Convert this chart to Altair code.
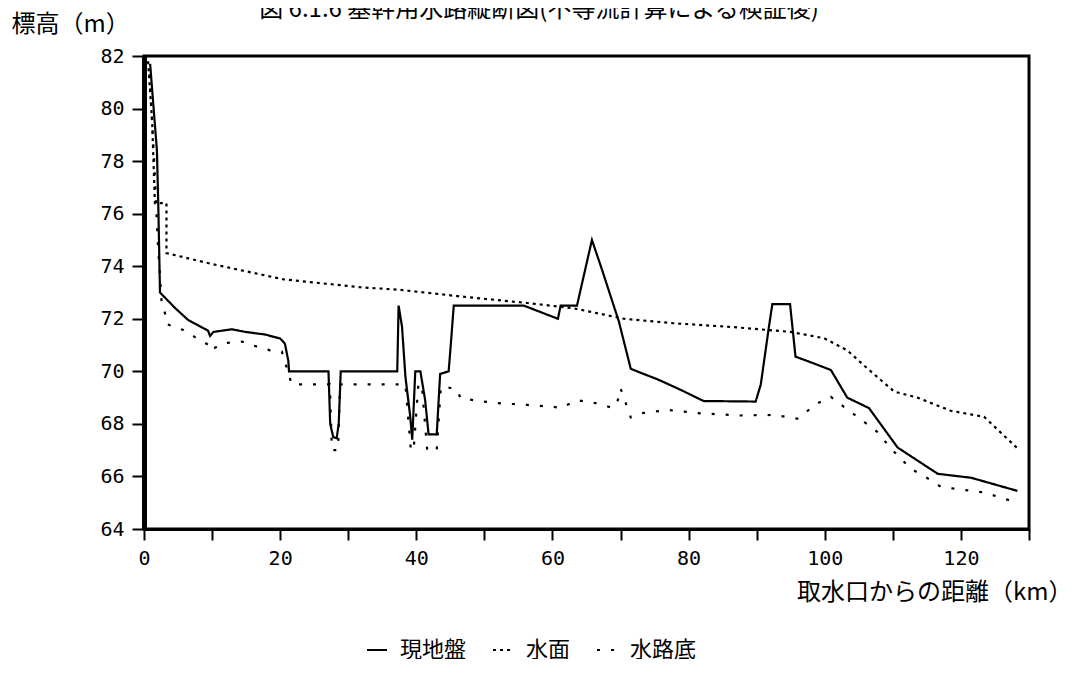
import altair as alt
import pandas as pd

# ---- data ----
series_names = ["現地盤", "水面", "水路底"]

ground_km = [0.9, 1.9, 2.1, 2.35, 4.6, 6.5, 9.4, 9.7, 10.2, 12.9, 14.9, 17.8, 20.0, 20.7, 21.2, 21.3,
             27.1, 27.35, 27.8, 28.3, 28.6, 28.9, 37.2, 37.4, 37.9, 38.4, 39.1, 39.4, 39.85, 40.6,
             41.3, 41.8, 43.0, 43.5, 44.75, 45.0, 45.5, 55.8, 60.8, 61.2, 63.6, 65.8, 67.3, 69.75,
             71.5, 72.9, 75.4, 78.8, 82.2, 89.85, 90.6, 91.8, 92.3, 94.9, 95.7, 98.4, 100.9, 103.3,
             106.5, 110.7, 116.6, 121.5, 128.3]
ground_m = [81.7, 78.4, 76.3, 73.0, 72.4, 71.95, 71.55, 71.35, 71.5, 71.6, 71.5, 71.4, 71.25, 71.05, 70.4, 70.0,
            70.0, 68.0, 67.5, 67.45, 68.0, 70.0, 70.0, 72.5, 71.7, 69.8, 68.3, 67.4, 70.0, 70.0,
            68.9, 67.6, 67.6, 69.9, 70.0, 70.8, 72.5, 72.5, 72.0, 72.5, 72.5, 75.0, 73.85, 71.9,
            70.1, 69.95, 69.7, 69.3, 68.87, 68.85, 69.5, 71.7, 72.56, 72.56, 70.56, 70.3, 70.05, 69.0,
            68.6, 67.1, 66.1, 65.95, 65.45]

water_km = [0.6, 1.2, 1.6, 3.3, 3.3, 9.7, 20.5, 31.8, 37.6, 46.5, 56.3, 63.1, 70.5, 77.8, 86.7,
            95.0, 99.9, 103.3, 106.3, 110.2, 113.6, 118.5, 123.4, 128.3]
water_m = [81.8, 79.5, 76.4, 76.4, 74.5, 74.1, 73.5, 73.2, 73.1, 72.85, 72.6, 72.4, 72.0, 71.83, 71.68,
           71.5, 71.26, 70.8, 70.1, 69.23, 69.0, 68.5, 68.27, 67.07]

bottom_km = [0.8, 1.5, 2.0, 2.6, 3.1, 3.3, 5.8, 7.5, 9.5, 9.7, 11.7, 14.4, 16.6, 18.5, 20.25, 21.7,
             27.3, 27.6, 28.5, 28.8, 37.6, 38.4, 39.2, 39.6, 40.3, 40.8, 41.6, 43.0, 43.6, 44.5, 46.0,
             46.5, 51.4, 56.3, 60.2, 61.2, 63.6, 67.1, 68.8, 69.6, 70.0, 71.5, 72.9, 76.9, 81.8,
             87.6, 92.5, 96.0, 98.9, 100.9, 102.8, 104.8, 107.7, 109.7, 112.6, 115.1, 117.1, 123.4, 128.3]
bottom_m = [81.3, 78.0, 75.0, 72.6, 72.2, 71.8, 71.57, 71.3, 71.0, 70.8, 71.07, 71.13, 70.94, 70.8, 70.75, 69.5,
            69.5, 67.0, 67.0, 69.5, 69.5, 69.5, 67.0, 67.0, 69.5, 69.5, 67.0, 67.0, 69.4, 69.4, 69.3,
            68.97, 68.8, 68.72, 68.65, 68.6, 68.9, 68.76, 68.6, 68.9, 69.35, 68.25, 68.4, 68.53, 68.4,
            68.32, 68.34, 68.2, 68.78, 69.03, 68.65, 68.27, 67.7, 67.07, 66.3, 65.93, 65.6, 65.39, 65.0]

x_ticks = list(range(0, 131, 10))
y_ticks = list(range(64, 83, 2))

title_text = ["図 6.1.6  基幹用水路縦断図(不等流計算による検証後)"]
x_title = "取水口からの距離（km）"
y_title = "標高（m）"

rows = []
for name, xs, ys in [(series_names[0], ground_km, ground_m),
                     (series_names[1], water_km, water_m),
                     (series_names[2], bottom_km, bottom_m)]:
    for i, (x, y) in enumerate(zip(xs, ys)):
        rows.append({"series": name, "km": x, "m": y, "idx": i})
df = pd.DataFrame(rows)

CJK = "Noto Sans CJK JP"
MONO = "DejaVu Sans Mono"

lines = alt.Chart(df).mark_line(color="black", strokeWidth=2.2, clip=True).encode(
    x=alt.X("km:Q",
            scale=alt.Scale(domain=[0, 130], nice=False, zero=False),
            axis=alt.Axis(values=x_ticks,
                          labelExpr="datum.value % 20 == 0 ? datum.label : ''",
                          title=x_title, titleX=928, titleY=63, titleAlign="right",
                          titleBaseline="middle", titleAnchor="end",
                          titleFont=CJK, titleFontSize=24, titleFontWeight="normal", titleColor="black",
                          labelFont=MONO, labelFontSize=20, labelColor="black", labelPadding=8,
                          labelFlush=False, labelOverlap=False, labelBound=False,
                          domainColor="black", domainWidth=3,
                          tickColor="black", tickWidth=2, tickSize=11, grid=False)),
    y=alt.Y("m:Q",
            scale=alt.Scale(domain=[64, 82], nice=False, zero=False),
            axis=alt.Axis(values=y_ticks,
                          title=y_title, titleAngle=0, titleX=-133, titleY=-32,
                          titleAlign="left", titleBaseline="middle",
                          titleFont=CJK, titleFontSize=24, titleFontWeight="normal", titleColor="black",
                          labelFont=MONO, labelFontSize=20, labelColor="black", labelPadding=8,
                          labelFlush=False, labelOverlap=False, labelBound=False,
                          domainColor="black", domainWidth=5,
                          tickColor="black", tickWidth=2, tickSize=12, grid=False)),
    strokeDash=alt.StrokeDash("series:N",
                              scale=alt.Scale(domain=series_names, range=[[1, 0], [3, 4], [3, 11]]),
                              legend=alt.Legend(orient="none", legendX=222, legendY=583,
                                                direction="horizontal", title=None,
                                                labelFont=CJK, labelFontSize=22, labelColor="black",
                                                symbolType="stroke", symbolSize=400,
                                                symbolStrokeWidth=2, symbolStrokeColor="black",
                                                labelOffset=12, columnPadding=22, padding=0)),
    order=alt.Order("idx:Q"),
)

title_layer = alt.Chart(pd.DataFrame({"t": title_text})).mark_text(
    font=CJK, fontSize=24, color="black", align="center", baseline="alphabetic"
).encode(text="t:N", x=alt.value(395), y=alt.value(-39))

chart = alt.layer(lines, title_layer).properties(
    width=885, height=473,
    autosize=alt.AutoSizeParams(type="none"),
    padding={"left": 136, "top": 48, "right": 44, "bottom": 130},
).configure(
    background="white",
    view=alt.ViewConfig(stroke="black", strokeWidth=3),
)

chart.save("out.html", embed_options={"renderer": "svg", "actions": False})
